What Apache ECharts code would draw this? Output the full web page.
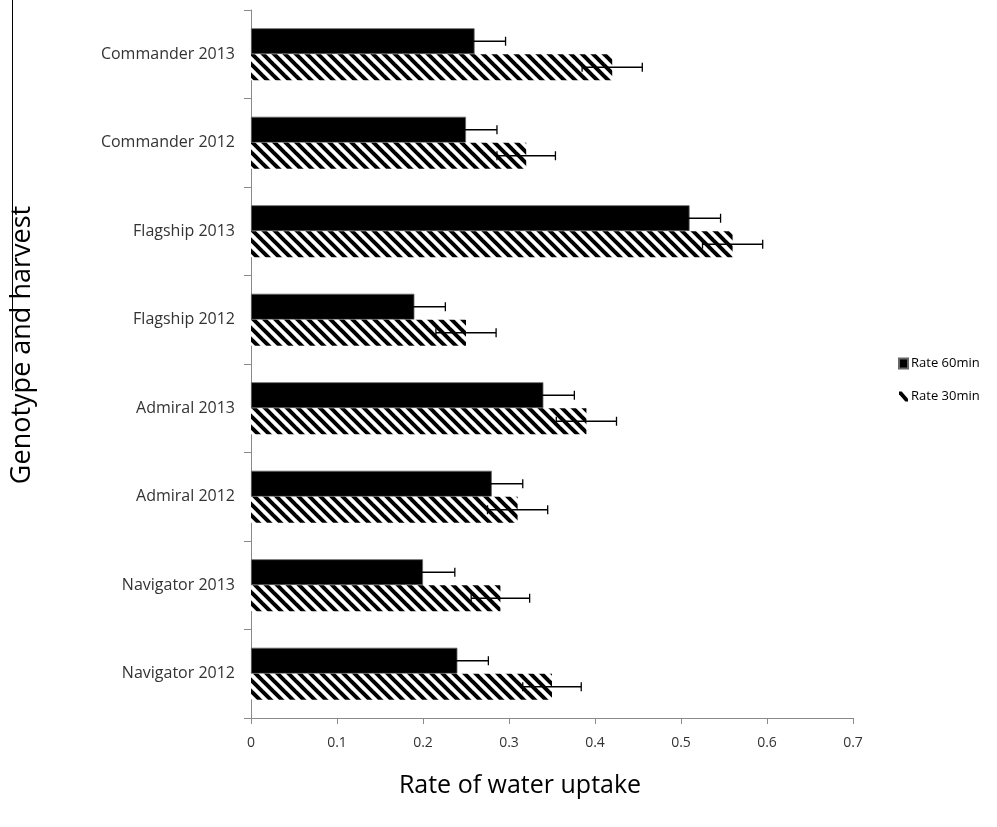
<!DOCTYPE html>
<html>
<head>
<meta charset="utf-8">
<script src="https://cdn.jsdelivr.net/npm/echarts@6/dist/echarts.min.js"></script>
<style>
html,body{margin:0;padding:0;background:#fff;}
#chart{width:997px;height:827px;}
</style>
</head>
<body>
<div id="chart"></div>
<script>
// Categories listed bottom to top
const categories = ['Navigator 2012','Navigator 2013','Admiral 2012','Admiral 2013','Flagship 2012','Flagship 2013','Commander 2012','Commander 2013'];
const rate60 = [0.24, 0.20, 0.28, 0.34, 0.19, 0.51, 0.25, 0.26];
const rate30 = [0.35, 0.29, 0.31, 0.39, 0.25, 0.56, 0.32, 0.42];
const err60 = [0.036, 0.037, 0.036, 0.036, 0.036, 0.036, 0.036, 0.036];
const err30 = [0.034, 0.034, 0.035, 0.035, 0.035, 0.035, 0.034, 0.035];
const seriesNames = ['Rate 60min', 'Rate 30min'];
const xTicks = [0, 0.1, 0.2, 0.3, 0.4, 0.5, 0.6, 0.7];
const xTitle = 'Rate of water uptake';
const yTitle = 'Genotype and harvest';

const FONT = 'Open Sans';
const BAR_W = 26;

// hatch pattern "\"
function makeHatch() {
  const P = 11;
  const c = document.createElement('canvas');
  c.width = P; c.height = P;
  const ctx = c.getContext('2d');
  ctx.fillStyle = '#fff';
  ctx.fillRect(0, 0, P, P);
  ctx.strokeStyle = '#000';
  ctx.lineWidth = 4;
  for (let k = -1; k <= 1; k++) {
    ctx.beginPath();
    ctx.moveTo(k * P - 2, -2);
    ctx.lineTo(k * P + P + 2, P + 2);
    ctx.stroke();
  }
  return c;
}
const hatch = makeHatch();

function errSeries(vals, errs, sign) {
  return {
    type: 'custom',
    z: 10,
    silent: true,
    data: vals.map((v, i) => [v, i, errs[i]]),
    encode: { x: 0, y: 1 },
    renderItem: function (params, api) {
      const v = api.value(0), c = api.value(1), e = api.value(2);
      const base = api.coord([v, c]);
      const y = base[1] + sign * BAR_W / 2;
      const x1 = api.coord([v - e, c])[0];
      const x2 = api.coord([v + e, c])[0];
      const cap = 4.5;
      const st = { stroke: '#000', lineWidth: 1.3 };
      return {
        type: 'group',
        children: [
          { type: 'line', shape: { x1: x1, y1: y, x2: x2, y2: y }, style: st },
          { type: 'line', shape: { x1: x1, y1: y - cap, x2: x1, y2: y + cap }, style: st },
          { type: 'line', shape: { x1: x2, y1: y - cap, x2: x2, y2: y + cap }, style: st }
        ]
      };
    }
  };
}

const chart = echarts.init(document.getElementById('chart'), null, { renderer: 'canvas' });
chart.setOption({
  animation: false,
  backgroundColor: '#fff',
  textStyle: { fontFamily: FONT },
  grid: { left: 251, right: 144, top: 10, bottom: 109, containLabel: false, outerBoundsMode: 'none' },
  legend: {
    orient: 'vertical',
    left: 893,
    top: 352,
    itemGap: 20,
    itemWidth: 9,
    itemHeight: 10,
    selectedMode: false,
    textStyle: { fontFamily: FONT, fontSize: 13, color: '#000', padding: [0, 0, 0, -2] },
    data: [
      { name: seriesNames[0], icon: 'rect', itemStyle: { color: '#000' } },
      { name: seriesNames[1], icon: 'path://M0,0 L3,0 L10,8 L10,11 L7,11 L0,3 Z', itemStyle: { color: '#000' } }
    ]
  },
  xAxis: {
    type: 'value',
    min: 0, max: 0.7, interval: 0.1,
    splitLine: { show: false },
    axisLine: { show: true, lineStyle: { color: '#8a8a8a', width: 1 } },
    axisTick: { show: true, length: 6, lineStyle: { color: '#8a8a8a' } },
    axisLabel: {
      margin: 18, fontSize: 14, color: '#333', fontFamily: FONT,
      formatter: function (v) {
        const t = xTicks.find(x => Math.abs(x - v) < 1e-9);
        return t === undefined ? '' : String(t);
      }
    }
  },
  yAxis: {
    type: 'category',
    data: categories,
    axisLine: { show: true, lineStyle: { color: '#8a8a8a', width: 1 } },
    axisTick: { show: true, length: 7, lineStyle: { color: '#8a8a8a' } },
    axisLabel: { margin: 16, fontSize: 16, color: '#333', fontFamily: FONT }
  },
  series: [
    {
      name: seriesNames[0], type: 'bar', data: rate60, barWidth: BAR_W, barGap: '0%',
      itemStyle: { color: '#000', borderColor: '#666', borderWidth: 0.8 }
    },
    {
      name: seriesNames[1], type: 'bar', data: rate30, barWidth: BAR_W, barGap: '0%',
      itemStyle: { color: { image: hatch, repeat: 'repeat' } }
    },
    errSeries(rate60, err60, -1),
    errSeries(rate30, err30, 1)
  ],
  graphic: [
    { type: 'line', shape: { x1: 12.5, y1: 0, x2: 12.5, y2: 390 }, style: { stroke: '#000', lineWidth: 1 }, silent: true },
    { type: 'text', x: 520, y: 786, silent: true,
      style: { text: xTitle, font: '25px "Open Sans"', fill: '#000', align: 'center', verticalAlign: 'middle' } },
    { type: 'text', x: 22, y: 345, rotation: Math.PI / 2, silent: true,
      style: { text: yTitle, font: '27px "Open Sans"', fill: '#000', align: 'center', verticalAlign: 'middle' } }
  ]
});
</script>
</body>
</html>
